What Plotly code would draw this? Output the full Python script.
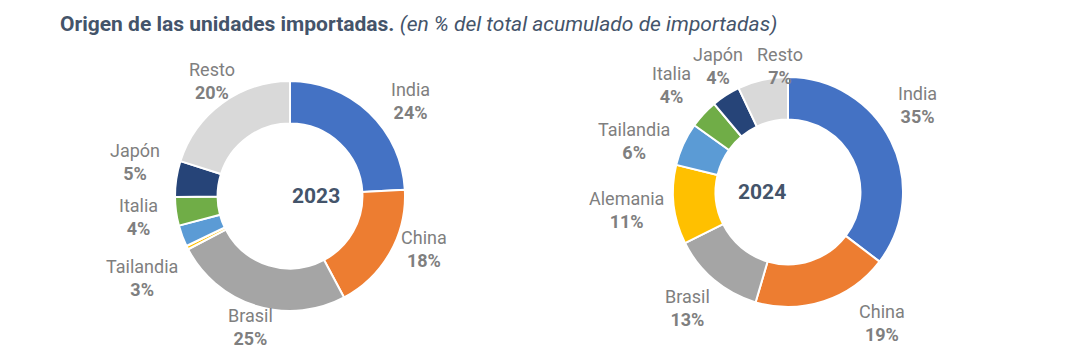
import math
import plotly.graph_objects as go

labels = ["India", "China", "Brasil", "Alemania", "Tailandia", "Italia", "Japón", "Resto"]
colors = ["#4472c4", "#ed7d31", "#a5a5a5", "#ffc000", "#5b9bd5", "#70ad47", "#264478", "#d9d9d9"]
values_2023 = [24, 18, 25, 0.5, 3, 4, 5, 20]
values_2024 = [35, 19, 13, 11, 6, 4, 4, 7]
show_2023 = [True, True, True, False, True, True, True, True]
show_2024 = [True] * 8

W, H = 1080, 351
R = 115
# pie centres in pixels (from top-left)
centre_2023 = (290, 196)
centre_2024 = (788, 192)

# small label nudges (pixels, x right / y down) to mimic the original label placement
nudge_2023 = {"India": (14, 17), "China": (0, -23), "Brasil": (5, -14), "Tailandia": (11, 23),
              "Japón": (-8, -12), "Resto": (13, 10)}
nudge_2024 = {"India": (-8, -19), "China": (47, -13), "Brasil": (1, -5), "Tailandia": (0, 20),
              "Japón": (13, 4), "Resto": (25, 20)}

LABEL_SIZE = 18
LABEL_COLOR = "#7f7f7f"


def domain_for(c):
    cx, cy = c
    return dict(x=[(cx - R) / W, (cx + R) / W], y=[1 - (cy + R) / H, 1 - (cy - R) / H])


fig = go.Figure()
for year, vals, show, centre, nudge in [("2023", values_2023, show_2023, centre_2023, nudge_2023),
                                        ("2024", values_2024, show_2024, centre_2024, nudge_2024)]:
    dom = domain_for(centre)
    fig.add_trace(go.Pie(
        labels=labels, values=vals, sort=False, direction="clockwise", rotation=0,
        hole=0.63, domain=dom, textinfo="none",
        marker=dict(colors=colors, line=dict(color="white", width=2)),
        showlegend=False, hoverinfo="label+value",
    ))
    # centre label
    fig.add_annotation(x=sum(dom["x"]) / 2, y=sum(dom["y"]) / 2, xref="paper", yref="paper",
                       text=f"<b>{year}</b>", showarrow=False,
                       font=dict(family="Roboto", size=21, color="#44546a"))
    # outside labels at the slice mid-angles
    total = sum(vals)
    cum = 0.0
    cx, cy = centre
    for lab, v, s in zip(labels, vals, show):
        a0 = cum / total * 360
        cum += v
        a1 = cum / total * 360
        if not s:
            continue
        th = math.radians((a0 + a1) / 2)
        sn, cs = math.sin(th), math.cos(th)
        hw = max(len(lab), 3) * 4.6
        hh = 22
        d = R + 8 + hw * abs(sn) + hh * abs(cs)
        px = cx + d * sn
        py = cy - d * cs
        nx, ny = nudge.get(lab, (0, 0))
        px += nx
        py += ny
        fig.add_annotation(x=px / W, y=1 - py / H, xref="paper", yref="paper",
                           xanchor="center", yanchor="middle", showarrow=False,
                           text=f"{lab}<br><b>{v:g}%</b>", align="center",
                           font=dict(family="Roboto", size=LABEL_SIZE, color=LABEL_COLOR))

fig.update_layout(
    width=W, height=H, margin=dict(l=0, r=0, t=0, b=0),
    paper_bgcolor="white", plot_bgcolor="white",
    title=dict(text="<b>Origen de las unidades importadas.</b> <i>(en % del total acumulado de importadas)</i>",
               x=60 / W, xanchor="left", y=1 - 24 / H, yanchor="middle",
               font=dict(family="Roboto", size=21, color="#44546a")),
)
fig.write_html("out.html")
